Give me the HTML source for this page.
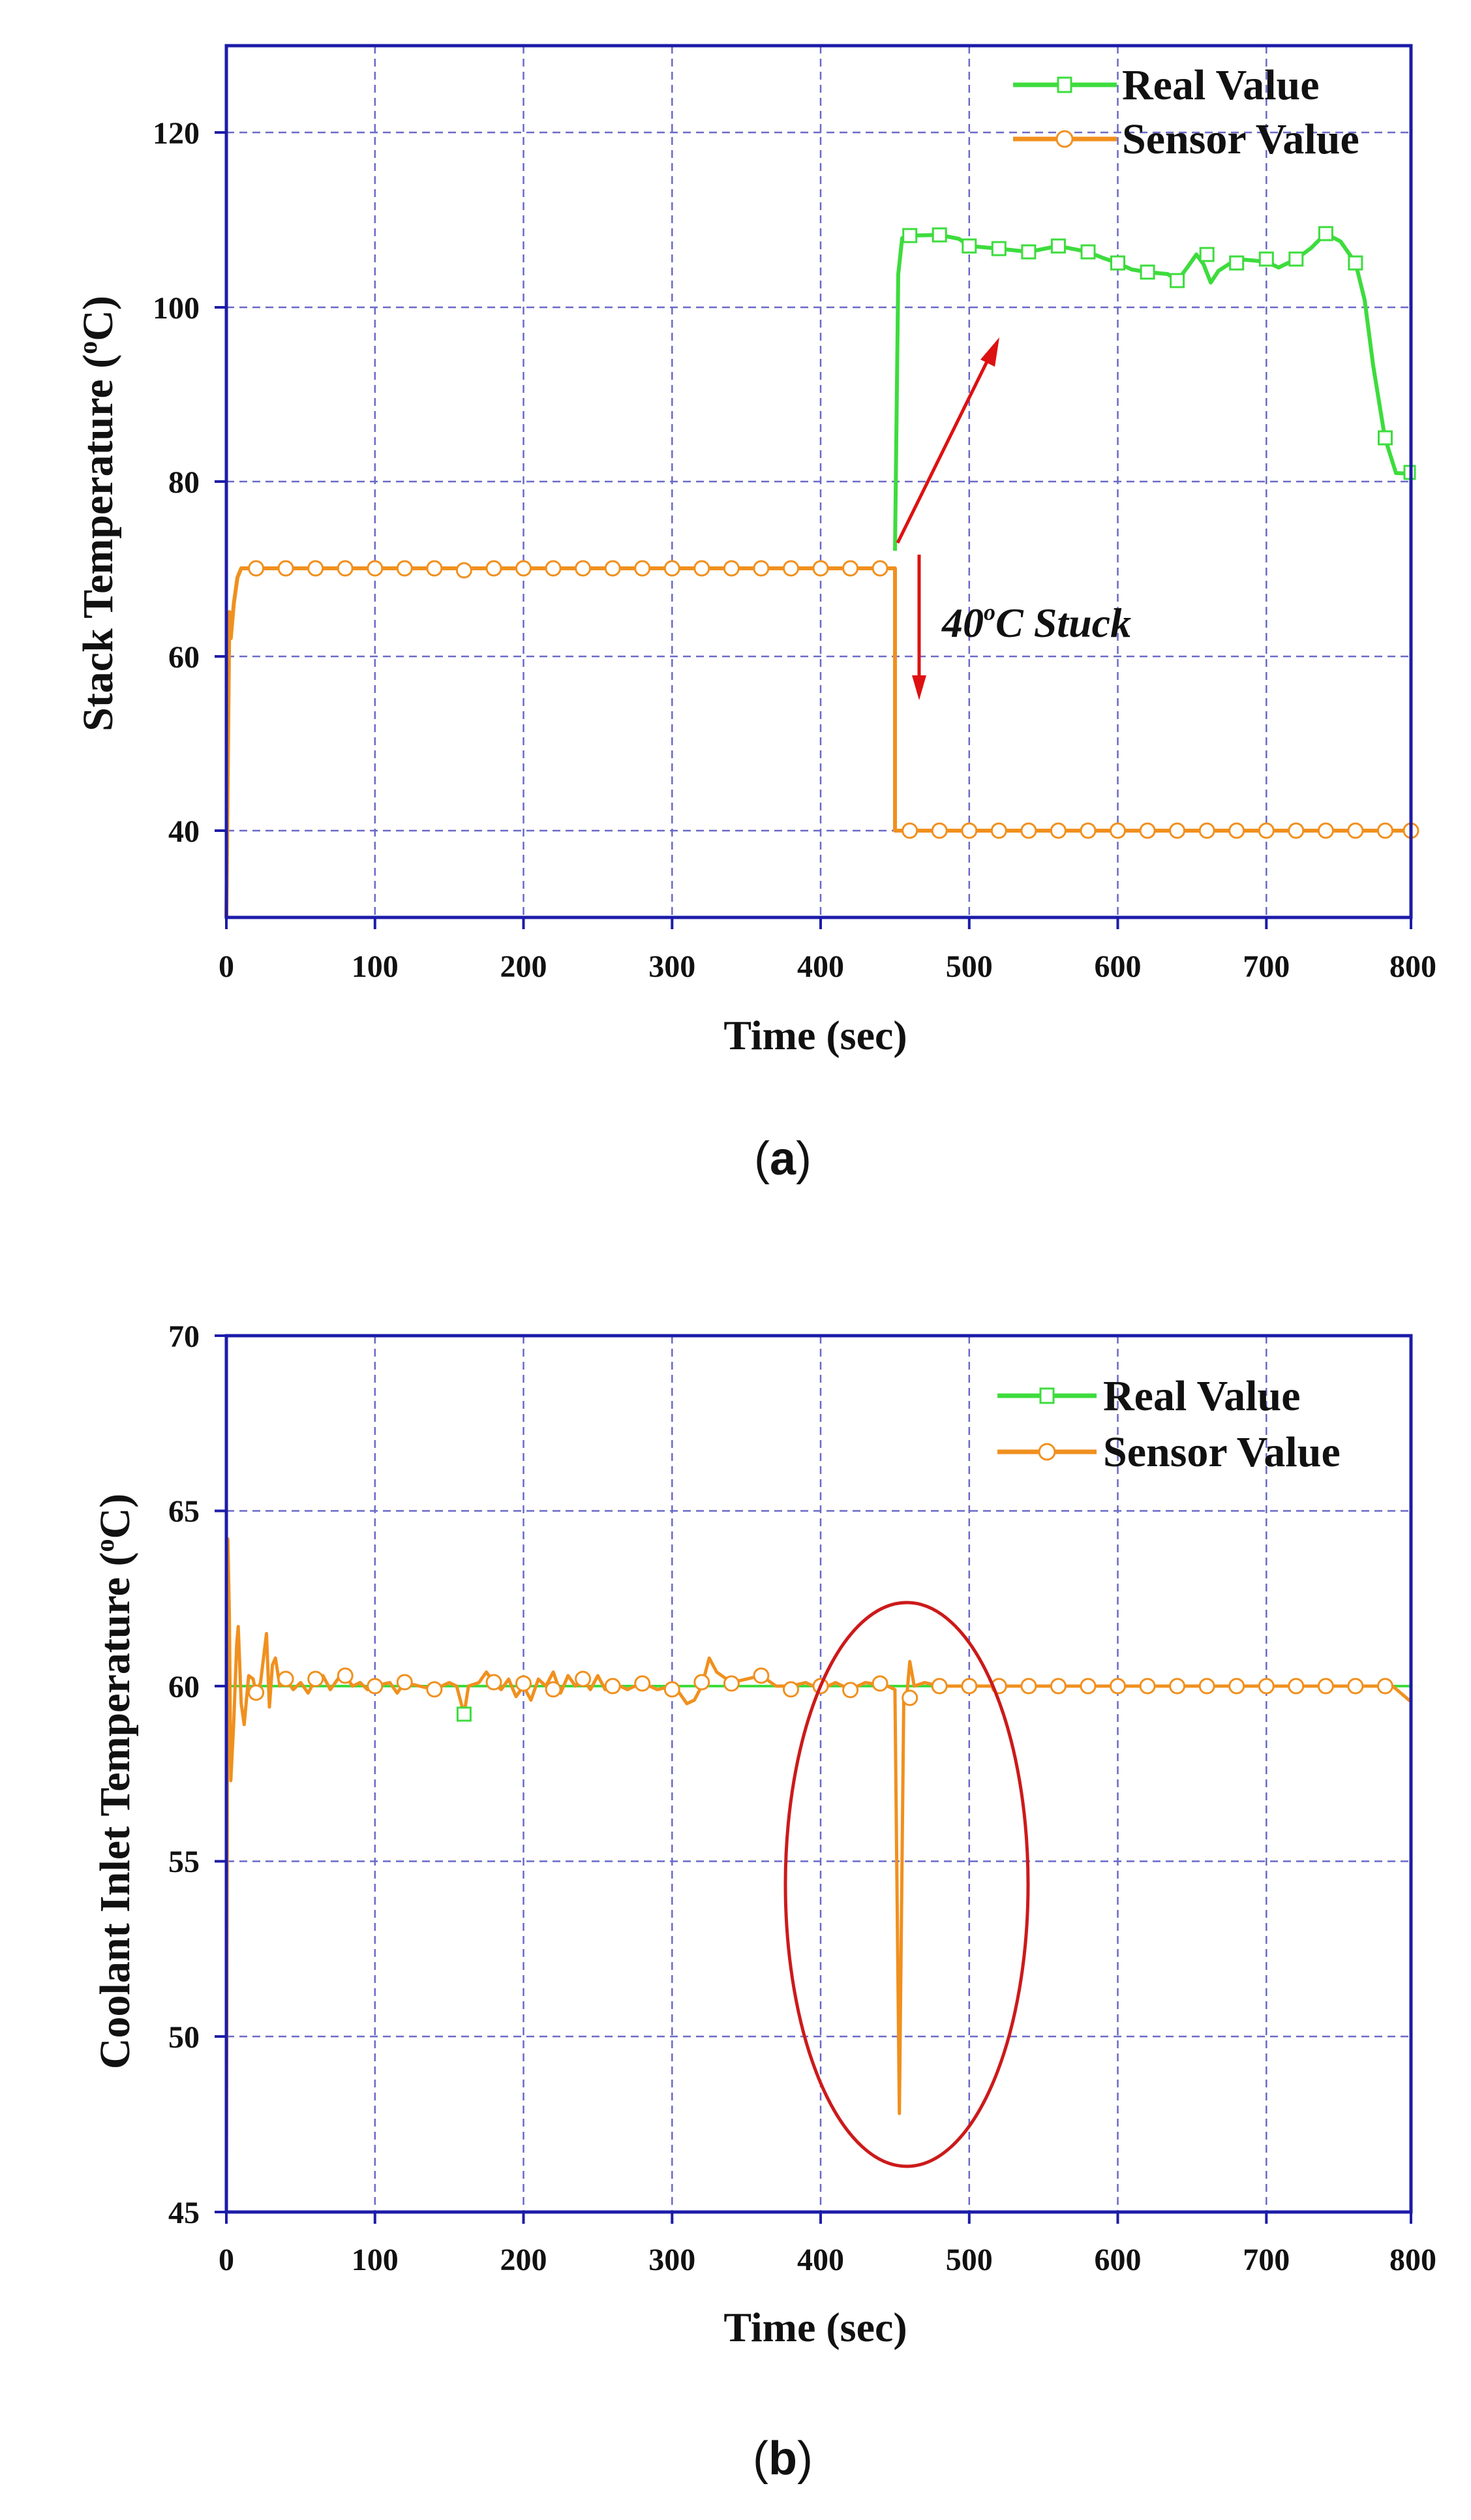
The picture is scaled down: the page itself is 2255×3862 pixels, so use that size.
<!DOCTYPE html>
<html><head><meta charset="utf-8"><style>
html,body{margin:0;padding:0;background:#fff;}
svg{display:block;}
.t{font-family:"Liberation Serif",serif;font-weight:bold;fill:#111;}
</style></head><body>
<svg width="2255" height="3862" viewBox="0 0 2255 3862" xmlns="http://www.w3.org/2000/svg">
<!-- ===== Chart A ===== -->
<g stroke="#6a6ac8" stroke-width="2.5" stroke-dasharray="12,8" fill="none">
<line x1="574.8" y1="70" x2="574.8" y2="1406"/><line x1="802.5" y1="70" x2="802.5" y2="1406"/>
<line x1="1030.3" y1="70" x2="1030.3" y2="1406"/><line x1="1258" y1="70" x2="1258" y2="1406"/>
<line x1="1485.8" y1="70" x2="1485.8" y2="1406"/><line x1="1713.5" y1="70" x2="1713.5" y2="1406"/>
<line x1="1941.3" y1="70" x2="1941.3" y2="1406"/>
<line x1="347" y1="203" x2="2163" y2="203"/><line x1="347" y1="471" x2="2163" y2="471"/>
<line x1="347" y1="738" x2="2163" y2="738"/><line x1="347" y1="1006" x2="2163" y2="1006"/>
<line x1="347" y1="1273" x2="2163" y2="1273"/>
</g>
<polyline fill="none" stroke="#f0901e" stroke-width="6" stroke-linejoin="round" points="347,1406 351.6,938 353.8,978 358.4,925 364,885 369.8,871 1372,871 1372,1273 2166,1273"/>
<g fill="#fff" stroke="#f0901e" stroke-width="3">
<circle cx="392.6" cy="871" r="11"/><circle cx="438.1" cy="871" r="11"/><circle cx="483.7" cy="871" r="11"/><circle cx="529.2" cy="871" r="11"/><circle cx="574.8" cy="871" r="11"/><circle cx="620.3" cy="871" r="11"/><circle cx="665.9" cy="871" r="11"/><circle cx="711.4" cy="874" r="11"/><circle cx="757" cy="871" r="11"/><circle cx="802.5" cy="871" r="11"/><circle cx="848.1" cy="871" r="11"/><circle cx="893.6" cy="871" r="11"/><circle cx="939.2" cy="871" r="11"/><circle cx="984.7" cy="871" r="11"/><circle cx="1030.3" cy="871" r="11"/><circle cx="1075.8" cy="871" r="11"/><circle cx="1121.4" cy="871" r="11"/><circle cx="1166.9" cy="871" r="11"/><circle cx="1212.5" cy="871" r="11"/><circle cx="1258" cy="871" r="11"/><circle cx="1303.6" cy="871" r="11"/><circle cx="1349.1" cy="871" r="11"/>
<circle cx="1394.7" cy="1273" r="11"/><circle cx="1440.2" cy="1273" r="11"/><circle cx="1485.8" cy="1273" r="11"/><circle cx="1531.3" cy="1273" r="11"/><circle cx="1576.9" cy="1273" r="11"/><circle cx="1622.4" cy="1273" r="11"/><circle cx="1668" cy="1273" r="11"/><circle cx="1713.5" cy="1273" r="11"/><circle cx="1759.1" cy="1273" r="11"/><circle cx="1804.6" cy="1273" r="11"/><circle cx="1850.2" cy="1273" r="11"/><circle cx="1895.7" cy="1273" r="11"/><circle cx="1941.3" cy="1273" r="11"/><circle cx="1986.8" cy="1273" r="11"/><circle cx="2032.4" cy="1273" r="11"/><circle cx="2077.9" cy="1273" r="11"/><circle cx="2123.5" cy="1273" r="11"/><circle cx="2163" cy="1273" r="11"/>
</g>
<polyline fill="none" stroke="#3ddc3d" stroke-width="6" stroke-linejoin="round" points="1372,844 1377,420 1383,365 1394.7,361 1440,360 1470,366 1485.8,377 1531,381 1577,386 1622,377 1668,386 1690,395 1713,403 1735,413 1759,417 1790,420 1805,430 1820,410 1834,390 1845,405 1856,433 1868,415 1896,397 1941,401 1960,410 1987,397 2010,380 2032,358 2055,370 2078,403 2092,460 2105,560 2123,671 2140,725 2163,726"/>
<g fill="#fff" stroke="#3ddc3d" stroke-width="3">
<rect x="1384.7" y="351" width="20" height="20"/><rect x="1430.2" y="350" width="20" height="20"/><rect x="1475.8" y="367" width="20" height="20"/><rect x="1521.3" y="371" width="20" height="20"/><rect x="1566.9" y="376" width="20" height="20"/><rect x="1612.4" y="367" width="20" height="20"/><rect x="1658" y="376" width="20" height="20"/><rect x="1703.5" y="393" width="20" height="20"/><rect x="1749.1" y="407" width="20" height="20"/><rect x="1794.6" y="420" width="20" height="20"/><rect x="1840.2" y="380" width="20" height="20"/><rect x="1885.7" y="393" width="20" height="20"/><rect x="1931.3" y="387" width="20" height="20"/><rect x="1976.8" y="387" width="20" height="20"/><rect x="2022.4" y="348" width="20" height="20"/><rect x="2067.9" y="393" width="20" height="20"/><rect x="2113.5" y="661" width="20" height="20"/><rect x="2153" y="714" width="16" height="20"/>
</g>
<g stroke="#dd1111" stroke-width="5" fill="#dd1111">
<line x1="1376" y1="832" x2="1520" y2="540"/>
<polygon points="1532,517 1525,562 1503,551" stroke="none"/>
<line x1="1409" y1="850" x2="1409" y2="1040"/>
<polygon points="1409,1073 1398,1035 1420,1035" stroke="none"/>
</g>
<text x="1444" y="976" class="t" font-style="italic" font-size="64">40<tspan font-size="36" dy="-26">o</tspan><tspan dy="26">C Stuck</tspan></text>
<line x1="1553" y1="130" x2="1712" y2="130" stroke="#3ddc3d" stroke-width="7"/>
<rect x="1622" y="119" width="20" height="22" fill="#fff" stroke="#3ddc3d" stroke-width="3"/>
<line x1="1553" y1="213" x2="1712" y2="213" stroke="#f0901e" stroke-width="7"/>
<circle cx="1632" cy="213" r="12" fill="#fff" stroke="#f0901e" stroke-width="3"/>
<text x="1720" y="152" class="t" font-size="66">Real Value</text>
<text x="1720" y="235" class="t" font-size="66">Sensor Value</text>
<rect x="347" y="70" width="1816" height="1336" fill="none" stroke="#1c1ca8" stroke-width="5"/>
<g stroke="#1c1ca8" stroke-width="4">
<line x1="329" y1="203" x2="347" y2="203"/><line x1="329" y1="471" x2="347" y2="471"/><line x1="329" y1="738" x2="347" y2="738"/><line x1="329" y1="1006" x2="347" y2="1006"/><line x1="329" y1="1273" x2="347" y2="1273"/>
<line x1="347" y1="1406" x2="347" y2="1424"/><line x1="574.8" y1="1406" x2="574.8" y2="1424"/><line x1="802.5" y1="1406" x2="802.5" y2="1424"/><line x1="1030.3" y1="1406" x2="1030.3" y2="1424"/><line x1="1258" y1="1406" x2="1258" y2="1424"/><line x1="1485.8" y1="1406" x2="1485.8" y2="1424"/><line x1="1713.5" y1="1406" x2="1713.5" y2="1424"/><line x1="1941.3" y1="1406" x2="1941.3" y2="1424"/><line x1="2163" y1="1406" x2="2163" y2="1424"/>
</g>
<g class="t" font-size="48" text-anchor="end">
<text x="306" y="220">120</text><text x="306" y="488">100</text><text x="306" y="755">80</text><text x="306" y="1023">60</text><text x="306" y="1290">40</text>
</g>
<g class="t" font-size="48" text-anchor="middle">
<text x="347" y="1497">0</text><text x="574.8" y="1497">100</text><text x="802.5" y="1497">200</text><text x="1030.3" y="1497">300</text><text x="1258" y="1497">400</text><text x="1485.8" y="1497">500</text><text x="1713.5" y="1497">600</text><text x="1941.3" y="1497">700</text><text x="2166" y="1497">800</text>
</g>
<text x="1250" y="1608" class="t" font-size="64" text-anchor="middle">Time (sec)</text>
<text transform="translate(172,787) rotate(-90)" class="t" font-size="66" text-anchor="middle">Stack Temperature (<tspan font-size="40" dy="-24">o</tspan><tspan dy="24">C)</tspan></text>
<text x="1200" y="1800" font-family="'Liberation Sans',sans-serif" font-size="72" text-anchor="middle" fill="#111">(<tspan font-weight="bold">a</tspan>)</text>

<!-- ===== Chart B ===== -->
<g stroke="#6a6ac8" stroke-width="2.5" stroke-dasharray="12,8" fill="none">
<line x1="574.8" y1="2047" x2="574.8" y2="3390"/><line x1="802.5" y1="2047" x2="802.5" y2="3390"/>
<line x1="1030.3" y1="2047" x2="1030.3" y2="3390"/><line x1="1258" y1="2047" x2="1258" y2="3390"/>
<line x1="1485.8" y1="2047" x2="1485.8" y2="3390"/><line x1="1713.5" y1="2047" x2="1713.5" y2="3390"/>
<line x1="1941.3" y1="2047" x2="1941.3" y2="3390"/>
<line x1="347" y1="2315.5" x2="2163" y2="2315.5"/><line x1="347" y1="2584" x2="2163" y2="2584"/>
<line x1="347" y1="2852.5" x2="2163" y2="2852.5"/><line x1="347" y1="3121" x2="2163" y2="3121"/>
</g>
<polyline fill="none" stroke="#3ddc3d" stroke-width="4" points="347,2584 2163,2584"/>
<polyline fill="none" stroke="#f0901e" stroke-width="5" stroke-linejoin="round" points="347,3390 349.3,2358.5 351.6,2476.6 353.8,2729 358.4,2637.7 362.9,2519.6 365.2,2492.7 369.8,2610.9 374.3,2643 381.2,2568 388,2573 392.6,2594.7 399.4,2578.6 408.5,2503.5 413,2616 417.6,2551.8 422.2,2541 429,2584 438.1,2573.3 449.5,2589.4 460.9,2578.6 472.3,2594.7 483.7,2573.3 495,2567.9 506.4,2589.4 517.8,2573.3 529.2,2567.9 540.6,2584 552,2578.6 563.4,2589.4 574.8,2584 597.5,2578.6 608.9,2594.7 620.3,2578.6 643,2584 665.9,2589.4 688.6,2578.6 700,2584 711.4,2627 718.2,2584 734.2,2578.6 745.6,2562.5 757,2578.6 768.3,2589.4 779.7,2573.3 791.1,2600.1 802.5,2584 813.9,2605.5 825.3,2573.3 836.7,2584 848.1,2562.5 859.4,2594.7 870.8,2567.9 882.2,2584 893.6,2573.3 905,2589.4 916.4,2567.9 927.8,2589.4 939.2,2578.6 961.9,2589.4 984.7,2578.6 1007.5,2589.4 1030.3,2584 1041.6,2594.7 1053,2610.9 1064.4,2605.5 1075.8,2584 1087.2,2541 1098.6,2562.5 1121.4,2578.6 1144.1,2573.3 1166.9,2567.9 1189.7,2584 1212.5,2584 1235.2,2578.6 1258,2589.4 1280.8,2578.6 1303.6,2589.4 1326.3,2578.6 1360.5,2584 1371.9,2589.4 1378.7,3239 1385.5,2600 1390,2600 1394.7,2546.4 1401.5,2584 1417.4,2578.6 1440.2,2584 2134.8,2584 2163,2608"/>
<g fill="#fff" stroke="#f0901e" stroke-width="3">
<circle cx="392.6" cy="2594" r="11"/><circle cx="438.1" cy="2573" r="11"/><circle cx="483.7" cy="2573" r="11"/><circle cx="529.2" cy="2568" r="11"/><circle cx="574.8" cy="2584" r="11"/><circle cx="620.3" cy="2578" r="11"/><circle cx="665.9" cy="2589" r="11"/><circle cx="757" cy="2578" r="11"/><circle cx="802.5" cy="2580" r="11"/><circle cx="848.1" cy="2589" r="11"/><circle cx="893.6" cy="2573" r="11"/><circle cx="939.2" cy="2584" r="11"/><circle cx="984.7" cy="2580" r="11"/><circle cx="1030.3" cy="2589" r="11"/><circle cx="1075.8" cy="2578" r="11"/><circle cx="1121.4" cy="2580" r="11"/><circle cx="1166.9" cy="2568" r="11"/><circle cx="1212.5" cy="2589" r="11"/><circle cx="1258" cy="2584" r="11"/><circle cx="1303.6" cy="2590" r="11"/><circle cx="1349.1" cy="2580" r="11"/><circle cx="1394.7" cy="2602" r="11"/><circle cx="1440.2" cy="2584" r="11"/><circle cx="1485.8" cy="2584" r="11"/><circle cx="1531.3" cy="2584" r="11"/><circle cx="1576.9" cy="2584" r="11"/><circle cx="1622.4" cy="2584" r="11"/><circle cx="1668" cy="2584" r="11"/><circle cx="1713.5" cy="2584" r="11"/><circle cx="1759.1" cy="2584" r="11"/><circle cx="1804.6" cy="2584" r="11"/><circle cx="1850.2" cy="2584" r="11"/><circle cx="1895.7" cy="2584" r="11"/><circle cx="1941.3" cy="2584" r="11"/><circle cx="1986.8" cy="2584" r="11"/><circle cx="2032.4" cy="2584" r="11"/><circle cx="2077.9" cy="2584" r="11"/><circle cx="2123.5" cy="2584" r="11"/>
</g>
<rect x="701.4" y="2617" width="20" height="20" fill="#fff" stroke="#3ddc3d" stroke-width="3"/>
<ellipse cx="1390" cy="2888" rx="186" ry="432" fill="none" stroke="#cc1a1a" stroke-width="5"/>
<line x1="1529" y1="2139" x2="1681" y2="2139" stroke="#3ddc3d" stroke-width="7"/>
<rect x="1595" y="2128" width="20" height="22" fill="#fff" stroke="#3ddc3d" stroke-width="3"/>
<line x1="1529" y1="2225" x2="1681" y2="2225" stroke="#f0901e" stroke-width="7"/>
<circle cx="1605" cy="2225" r="12" fill="#fff" stroke="#f0901e" stroke-width="3"/>
<text x="1691" y="2161" class="t" font-size="66">Real Value</text>
<text x="1691" y="2247" class="t" font-size="66">Sensor Value</text>
<rect x="347" y="2047" width="1816" height="1343" fill="none" stroke="#1c1ca8" stroke-width="5"/>
<g stroke="#1c1ca8" stroke-width="4">
<line x1="329" y1="2047" x2="347" y2="2047"/><line x1="329" y1="2315.5" x2="347" y2="2315.5"/><line x1="329" y1="2584" x2="347" y2="2584"/><line x1="329" y1="2852.5" x2="347" y2="2852.5"/><line x1="329" y1="3121" x2="347" y2="3121"/><line x1="329" y1="3390" x2="347" y2="3390"/>
<line x1="347" y1="3390" x2="347" y2="3408"/><line x1="574.8" y1="3390" x2="574.8" y2="3408"/><line x1="802.5" y1="3390" x2="802.5" y2="3408"/><line x1="1030.3" y1="3390" x2="1030.3" y2="3408"/><line x1="1258" y1="3390" x2="1258" y2="3408"/><line x1="1485.8" y1="3390" x2="1485.8" y2="3408"/><line x1="1713.5" y1="3390" x2="1713.5" y2="3408"/><line x1="1941.3" y1="3390" x2="1941.3" y2="3408"/><line x1="2163" y1="3390" x2="2163" y2="3408"/>
</g>
<g class="t" font-size="48" text-anchor="end">
<text x="306" y="2064">70</text><text x="306" y="2332">65</text><text x="306" y="2601">60</text><text x="306" y="2869">55</text><text x="306" y="3138">50</text><text x="306" y="3407">45</text>
</g>
<g class="t" font-size="48" text-anchor="middle">
<text x="347" y="3479">0</text><text x="574.8" y="3479">100</text><text x="802.5" y="3479">200</text><text x="1030.3" y="3479">300</text><text x="1258" y="3479">400</text><text x="1485.8" y="3479">500</text><text x="1713.5" y="3479">600</text><text x="1941.3" y="3479">700</text><text x="2166" y="3479">800</text>
</g>
<text x="1250" y="3588" class="t" font-size="64" text-anchor="middle">Time (sec)</text>
<text transform="translate(198,2730) rotate(-90)" class="t" font-size="66" text-anchor="middle">Coolant Inlet Temperature (<tspan font-size="40" dy="-24">o</tspan><tspan dy="24">C)</tspan></text>
<text x="1200" y="3792" font-family="'Liberation Sans',sans-serif" font-size="72" text-anchor="middle" fill="#111">(<tspan font-weight="bold">b</tspan>)</text>
</svg>
</body></html>
